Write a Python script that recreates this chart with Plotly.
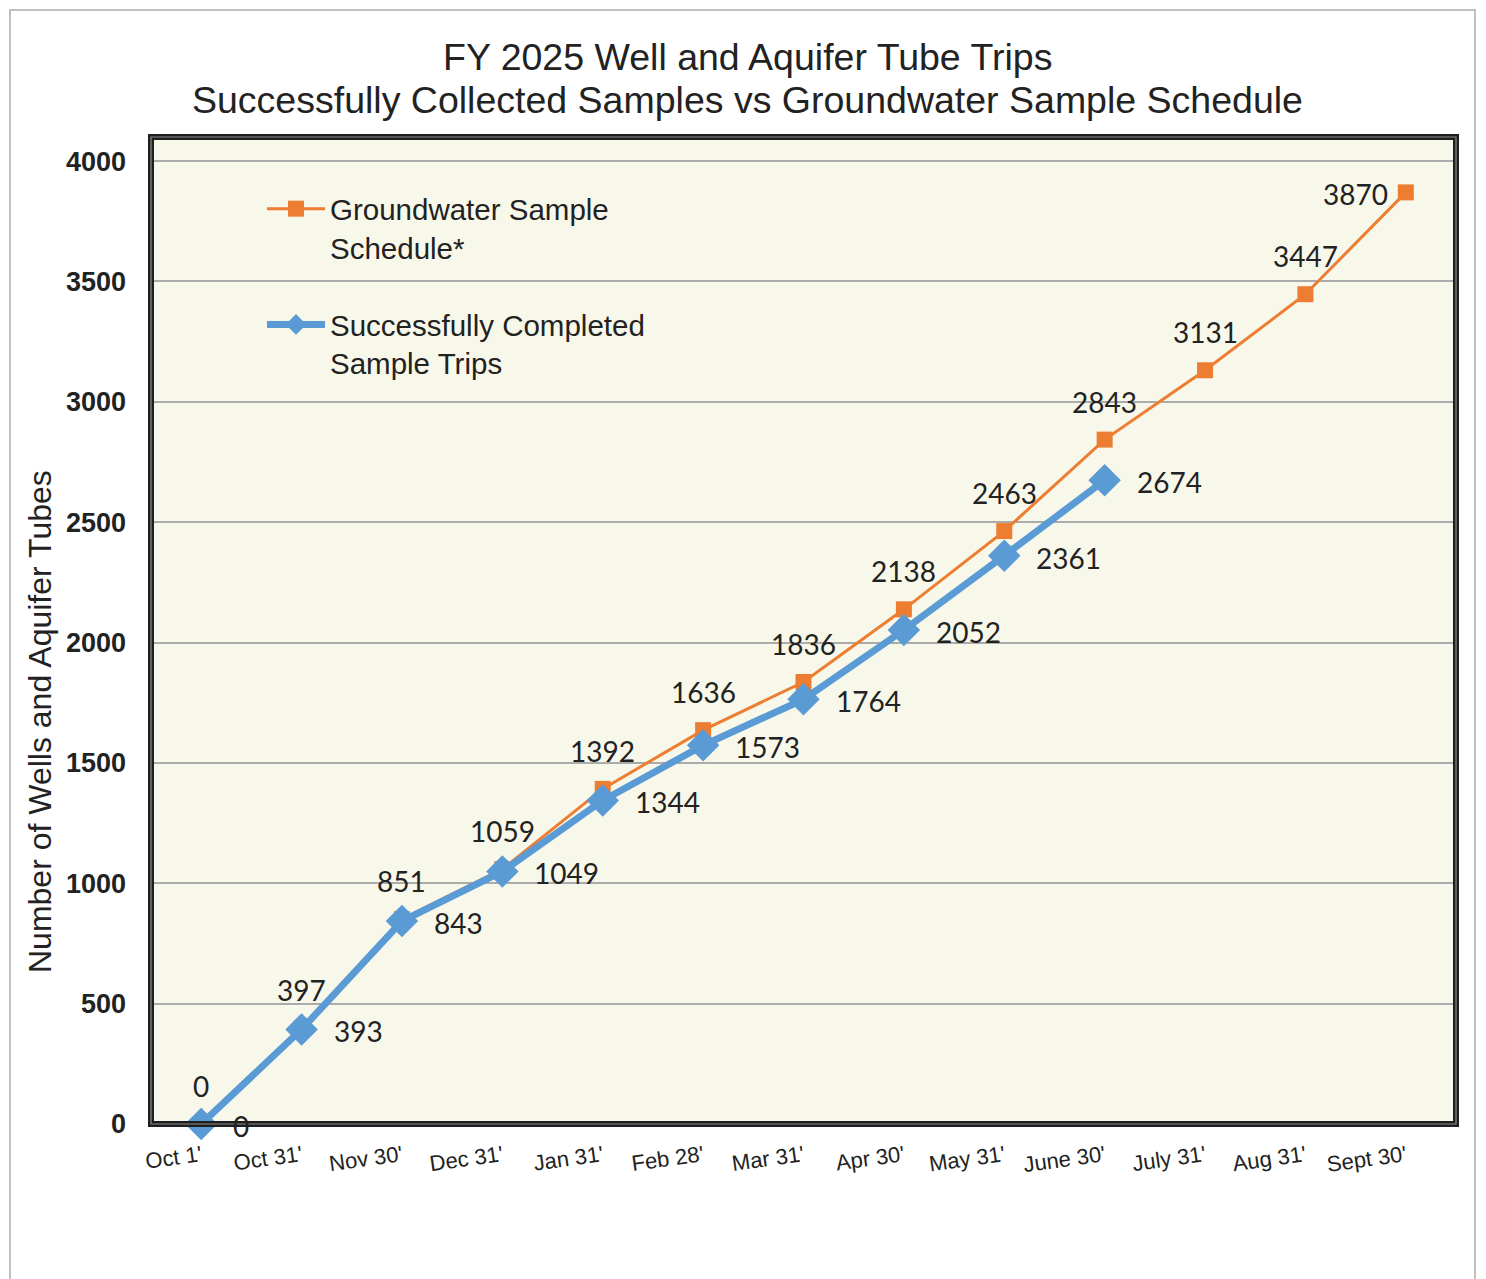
import plotly.graph_objects as go

# ---------------- data ----------------
months = ["Oct 1'", "Oct 31'", "Nov 30'", "Dec 31'", "Jan 31'", "Feb 28'", "Mar 31'",
          "Apr 30'", "May 31'", "June 30'", "July 31'", "Aug 31'", "Sept 30'"]
schedule = [0, 397, 851, 1059, 1392, 1636, 1836, 2138, 2463, 2843, 3131, 3447, 3870]
completed = [0, 393, 843, 1049, 1344, 1573, 1764, 2052, 2361, 2674]
y_ticks = [0, 500, 1000, 1500, 2000, 2500, 3000, 3500, 4000]

title_line1 = "FY 2025 Well and Aquifer Tube Trips"
title_line2 = "Successfully Collected Samples vs Groundwater Sample Schedule"
y_title = "Number of Wells and Aquifer Tubes"
name_sched = "Groundwater Sample<br>Schedule*"
name_comp = "Successfully Completed<br>Sample Trips"

# ---------------- layout constants ----------------
OFF = 8                      # default page body margin
W, H = 1486 - OFF, 1279 - OFF
PLOT_L, PLOT_R, PLOT_T, PLOT_B = 151, 1456, 137, 1124   # target screen pixels
ML, MT = PLOT_L - OFF, PLOT_T - OFF
MR = W + OFF - PLOT_R
MB = H + OFF - PLOT_B
PW, PH = PLOT_R - PLOT_L, PLOT_B - PLOT_T

def px_x(px):
    return (px - PLOT_L) / PW

def px_y(py):
    return (PLOT_B - py) / PH

ORANGE = "#ED7D31"
BLUE = "#5B9BD5"
TXT = "#222222"
SANS = "Liberation Sans, Arial, sans-serif"
LBL = "Lato, Open Sans, sans-serif"

fig = go.Figure()
fig.add_trace(go.Scatter(
    x=months[:len(schedule)], y=schedule, name=name_sched, legendgroup="a",
    mode="lines+markers", line=dict(color=ORANGE, width=3),
    marker=dict(symbol="square", size=16, color=ORANGE), cliponaxis=False))
fig.add_trace(go.Scatter(
    x=months[:len(completed)], y=completed, name=name_comp, legendgroup="b",
    mode="lines+markers", line=dict(color=BLUE, width=7),
    marker=dict(symbol="diamond", size=25, color=BLUE), cliponaxis=False))

annotations = []
for i, v in enumerate(schedule):
    if i == len(schedule) - 1:
        annotations.append(dict(x=months[i], y=v, text=str(v), showarrow=False,
                                xanchor="right", yanchor="middle", xshift=-16, yshift=-2,
                                font=dict(family=LBL, size=28, color=TXT)))
    else:
        annotations.append(dict(x=months[i], y=v, text=str(v), showarrow=False,
                                xanchor="center", yanchor="middle", yshift=38,
                                font=dict(family=LBL, size=28, color=TXT)))
for i, v in enumerate(completed):
    annotations.append(dict(x=months[i], y=v, text=str(v), showarrow=False,
                            xanchor="left", yanchor="middle", xshift=30, yshift=-2,
                            font=dict(family=LBL, size=28, color=TXT)))

annotations.append(dict(xref="paper", yref="paper", x=px_x(747), y=px_y(57),
                        text=title_line1, showarrow=False, xanchor="center", yanchor="middle",
                        font=dict(family=SANS, size=37.5, color=TXT)))
annotations.append(dict(xref="paper", yref="paper", x=px_x(747), y=px_y(100),
                        text=title_line2, showarrow=False, xanchor="center", yanchor="middle",
                        font=dict(family=SANS, size=37.5, color=TXT)))
annotations.append(dict(xref="paper", yref="paper", x=px_x(40), y=px_y(722),
                        text=y_title, showarrow=False, textangle=-90,
                        xanchor="center", yanchor="middle",
                        font=dict(family=SANS, size=32, color=TXT)))

shapes = [
    dict(type="rect", xref="paper", yref="paper", x0=px_x(10), x1=px_x(1475),
         y0=px_y(1320), y1=px_y(10), line=dict(color="#C0C0C0", width=2), layer="above"),
    dict(type="rect", xref="paper", yref="paper", x0=0, x1=1, y0=0, y1=1,
         line=dict(color="#1E1E1E", width=6)),
    dict(type="rect", xref="paper", yref="paper", x0=0, x1=1, y0=0, y1=1,
         line=dict(color="#8C8C8C", width=1.2)),
]

fig.update_layout(
    width=W, height=H,
    margin=dict(l=ML, r=MR, t=MT, b=MB, autoexpand=False),
    paper_bgcolor="white", plot_bgcolor="#F8F8EA",
    showlegend=True,
    legend=dict(x=px_x(262), y=px_y(183), xanchor="left", yanchor="top",
                bgcolor="rgba(0,0,0,0)", font=dict(family=SANS, size=29.5, color=TXT),
                valign="top", traceorder="grouped", tracegroupgap=36, itemwidth=58),
    annotations=annotations, shapes=shapes,
    xaxis=dict(type="category", categoryorder="array", categoryarray=months,
               range=[-0.5, len(months) - 0.5], showgrid=False, zeroline=False,
               tickangle=-8, ticks="", ticklabelstandoff=14,
               tickfont=dict(family=SANS, size=22, color=TXT)),
    yaxis=dict(range=[0, 4100], tickvals=y_ticks, showgrid=True, gridcolor="#ABABAB",
               gridwidth=1.5, zeroline=False, ticks="", ticklabelstandoff=24,
               tickfont=dict(family=SANS, size=27, color=TXT, weight="bold")),
)

fig.write_html("out.html")
